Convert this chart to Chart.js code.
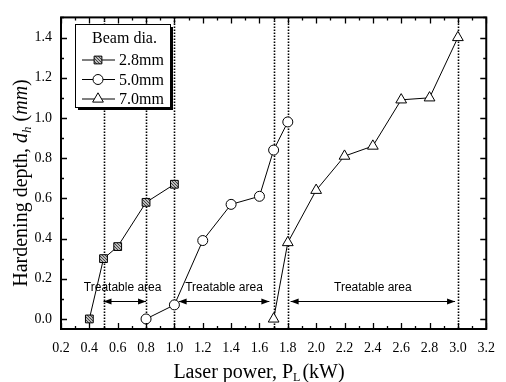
<!DOCTYPE html>
<html>
<head>
<meta charset="utf-8">
<script src="https://cdn.jsdelivr.net/npm/chart.js@4/dist/chart.umd.min.js"></script>
<style>
  html, body { margin: 0; padding: 0; background: #fff; }
  #wrap { width: 506px; height: 382px; }
</style>
</head>
<body>
<div id="wrap"><canvas id="c"></canvas></div>
<script>
// ── Data ──────────────────────────────────────────────────
const beam28 = [[0.4, 0.00], [0.5, 0.30], [0.6, 0.36], [0.8, 0.58], [1.0, 0.67]];
const beam50 = [[0.8, 0.00], [1.0, 0.07], [1.2, 0.39], [1.4, 0.57], [1.6, 0.61], [1.7, 0.84], [1.8, 0.98]];
const beam70 = [[1.7, 0.00], [1.8, 0.38], [2.0, 0.64], [2.2, 0.81], [2.4, 0.86], [2.6, 1.09], [2.8, 1.10], [3.0, 1.40]];
const seriesLabels = ['2.8mm', '5.0mm', '7.0mm'];
const legendTitle = 'Beam dia.';
const boundaries = [0.5, 0.8, 1.0, 1.7, 1.8, 3.0];
const areas = [[0.5, 0.8], [1.03, 1.67], [1.82, 2.98]];
const areaLabelX = [0.635, 1.35, 2.4];
const areaLabel = 'Treatable area';
const arrowY = 0.09;
const areaLabelY = 0.155;

const SERIF = '"Liberation Serif", "DejaVu Serif", serif';
const SANS = '"Liberation Sans", Arial, sans-serif';

// hatched fill for the 2.8mm square marker
const pc = document.createElement('canvas');
pc.width = 3; pc.height = 3;
const pctx = pc.getContext('2d');
pctx.fillStyle = '#bbb';
pctx.fillRect(0, 0, 3, 3);
pctx.fillStyle = '#444';
pctx.fillRect(0, 0, 1, 1);
pctx.fillRect(1, 1, 1, 1);
pctx.fillRect(2, 2, 1, 1);
const hatch = document.createElement('canvas').getContext('2d').createPattern(pc, 'repeat');

const toXY = arr => arr.map(([x, y]) => ({ x, y }));

// ── Plugin: dotted boundaries, arrows, ticks, titles, legend ─
const decorPlugin = {
  id: 'decor',
  beforeDatasetsDraw(chart) {
    const { ctx, chartArea: A, scales: { x, y } } = chart;
    ctx.save();
    ctx.strokeStyle = '#000';
    ctx.lineWidth = 1.6;
    ctx.setLineDash([1.6, 1.4]);
    for (const b of boundaries) {
      const px = Math.round(x.getPixelForValue(b)) + 0.5;
      ctx.beginPath(); ctx.moveTo(px, A.top); ctx.lineTo(px, A.bottom); ctx.stroke();
    }
    ctx.setLineDash([]);
    // arrows
    ctx.lineWidth = 1;
    const ay = Math.round(y.getPixelForValue(arrowY)) + 0.5;
    for (const [a, b] of areas) {
      const x1 = x.getPixelForValue(a), x2 = x.getPixelForValue(b);
      ctx.beginPath(); ctx.moveTo(x1, ay); ctx.lineTo(x2, ay); ctx.stroke();
      ctx.fillStyle = '#000';
      ctx.beginPath(); ctx.moveTo(x1, ay); ctx.lineTo(x1 + 8, ay - 3); ctx.lineTo(x1 + 8, ay + 3); ctx.closePath(); ctx.fill();
      ctx.beginPath(); ctx.moveTo(x2, ay); ctx.lineTo(x2 - 8, ay - 3); ctx.lineTo(x2 - 8, ay + 3); ctx.closePath(); ctx.fill();
    }
    ctx.font = '12px ' + SANS;
    ctx.textAlign = 'center';
    ctx.textBaseline = 'middle';
    const ly = y.getPixelForValue(areaLabelY);
    for (const lx of areaLabelX) ctx.fillText(areaLabel, x.getPixelForValue(lx), ly);
    ctx.restore();
  },
  afterDraw(chart) {
    const { ctx, chartArea: A, scales: { x, y } } = chart;
    ctx.save();
    ctx.strokeStyle = '#000';
    ctx.lineWidth = 2;
    ctx.strokeRect(A.left, A.top, A.right - A.left, A.bottom - A.top);
    ctx.lineWidth = 1.3;
    // inward ticks on all four sides
    for (let i = 2; i <= 32; i++) {
      const v = i / 10;
      const px = Math.round(x.getPixelForValue(v)) + 0.5;
      const len = i % 2 === 0 ? 6 : 3;
      ctx.beginPath();
      ctx.moveTo(px, A.bottom); ctx.lineTo(px, A.bottom - len);
      ctx.moveTo(px, A.top); ctx.lineTo(px, A.top + len);
      ctx.stroke();
    }
    for (let i = 0; i <= 15; i++) {
      const v = i / 10;
      const py = Math.round(y.getPixelForValue(v)) + 0.5;
      const len = i % 2 === 0 ? 6 : 3;
      ctx.beginPath();
      ctx.moveTo(A.left, py); ctx.lineTo(A.left + len, py);
      ctx.moveTo(A.right, py); ctx.lineTo(A.right - len, py);
      ctx.stroke();
    }

    // x title: Laser power, P_L(kW)
    ctx.fillStyle = '#000';
    ctx.textBaseline = 'alphabetic';
    ctx.textAlign = 'left';
    const xt1 = 'Laser power, P', xt2 = 'L', xt3 = '(kW)';
    ctx.font = '20px ' + SERIF;
    const w1 = ctx.measureText(xt1).width, w3 = ctx.measureText(xt3).width;
    ctx.font = '12px ' + SERIF;
    const w2 = ctx.measureText(xt2).width;
    let sx = 259 - (w1 + w2 + w3 + 2) / 2;
    const by = 378;
    ctx.font = '20px ' + SERIF; ctx.fillText(xt1, sx, by); sx += w1;
    ctx.font = '12px ' + SERIF; ctx.fillText(xt2, sx, by + 3); sx += w2 + 2;
    ctx.font = '20px ' + SERIF; ctx.fillText(xt3, sx, by);

    // y title: Hardening depth, d_h (mm)
    ctx.save();
    ctx.translate(27, 183);
    ctx.rotate(-Math.PI / 2);
    const parts = [
      { t: 'Hardening depth, ', f: '20px ' + SERIF, dy: 0 },
      { t: 'd', f: 'italic 20px ' + SERIF, dy: 0 },
      { t: 'h', f: 'italic 13px ' + SERIF, dy: 4 },
      { t: ' (', f: '20px ' + SERIF, dy: 0 },
      { t: 'mm', f: 'italic 20px ' + SERIF, dy: 0 },
      { t: ')', f: '20px ' + SERIF, dy: 0 },
    ];
    let tw = 0;
    for (const p of parts) { ctx.font = p.f; p.w = ctx.measureText(p.t).width; tw += p.w; }
    let tx = -tw / 2;
    for (const p of parts) { ctx.font = p.f; ctx.fillText(p.t, tx, p.dy); tx += p.w; }
    ctx.restore();

    // legend box with drop shadow
    const L = { x: 75, y: 24, w: 95, h: 83 };
    ctx.fillStyle = '#000';
    ctx.fillRect(L.x + 3, L.y + 3, L.w, L.h);
    ctx.fillStyle = '#fff';
    ctx.fillRect(L.x, L.y, L.w, L.h);
    ctx.lineWidth = 1;
    ctx.strokeRect(L.x + 0.5, L.y + 0.5, L.w, L.h);
    ctx.fillStyle = '#000';
    ctx.font = '16px ' + SERIF;
    ctx.textAlign = 'center';
    ctx.textBaseline = 'middle';
    ctx.fillText(legendTitle, L.x + L.w / 2 + 2, L.y + 15);
    ctx.textAlign = 'left';
    chart.data.datasets.forEach((ds, i) => {
      const ry = L.y + 36 + i * 19.5;
      ctx.beginPath(); ctx.moveTo(L.x + 7, ry); ctx.lineTo(L.x + 40, ry);
      ctx.strokeStyle = '#000'; ctx.lineWidth = 1; ctx.stroke();
      ctx.fillStyle = ds.pointBackgroundColor;
      ctx.strokeStyle = '#000';
      Chart.helpers.drawPoint(ctx, { pointStyle: ds.pointStyle, radius: ds.pointRadius, borderWidth: 1, rotation: 0 }, L.x + 23, ry);
      ctx.fillStyle = '#000';
      ctx.font = '16px ' + SERIF;
      ctx.fillText(ds.label, L.x + 44, ry + 1);
    });
    ctx.restore();
  },
};

new Chart(document.getElementById('c'), {
  type: 'scatter',
  plugins: [decorPlugin],
  data: {
    datasets: [
      { label: seriesLabels[0], data: toXY(beam28), pointStyle: 'rect', pointRadius: 5.5,
        pointBackgroundColor: hatch, pointBorderColor: '#000', pointBorderWidth: 1 },
      { label: seriesLabels[1], data: toXY(beam50), pointStyle: 'circle', pointRadius: 5,
        pointBackgroundColor: '#fff', pointBorderColor: '#000', pointBorderWidth: 1 },
      { label: seriesLabels[2], data: toXY(beam70), pointStyle: 'triangle', pointRadius: 6.2,
        pointBackgroundColor: '#fff', pointBorderColor: '#000', pointBorderWidth: 1 },
    ].map(d => Object.assign({ showLine: true, borderColor: '#000', borderWidth: 1, tension: 0 }, d)),
  },
  options: {
    responsive: true,
    maintainAspectRatio: false,
    animation: false,
    layout: { padding: { top: 12, right: 11, left: 0, bottom: 0 } },
    plugins: { legend: { display: false }, tooltip: { enabled: false } },
    scales: {
      x: {
        type: 'linear', min: 0.2, max: 3.2,
        afterBuildTicks(scale) {
          scale.ticks = [];
          for (let i = 2; i <= 32; i += 2) scale.ticks.push({ value: i / 10 });
        },
        afterFit(scale) { scale.height = 53; },
        grid: { display: false, drawTicks: false },
        border: { display: false },
        ticks: { color: '#000', padding: 11, maxRotation: 0, autoSkip: false,
          font: { family: SERIF, size: 14 }, callback: v => v.toFixed(1) },
      },
      y: {
        type: 'linear', min: -0.05, max: 1.5,
        afterBuildTicks(scale) {
          scale.ticks = [];
          for (let i = 0; i <= 14; i += 2) scale.ticks.push({ value: i / 10 });
        },
        afterFit(scale) { scale.width = 61; },
        grid: { display: false, drawTicks: false },
        border: { display: false },
        ticks: { color: '#000', padding: 9, autoSkip: false,
          font: { family: SERIF, size: 14 }, callback: v => v.toFixed(1) },
      },
    },
  },
});
</script>
</body>
</html>
